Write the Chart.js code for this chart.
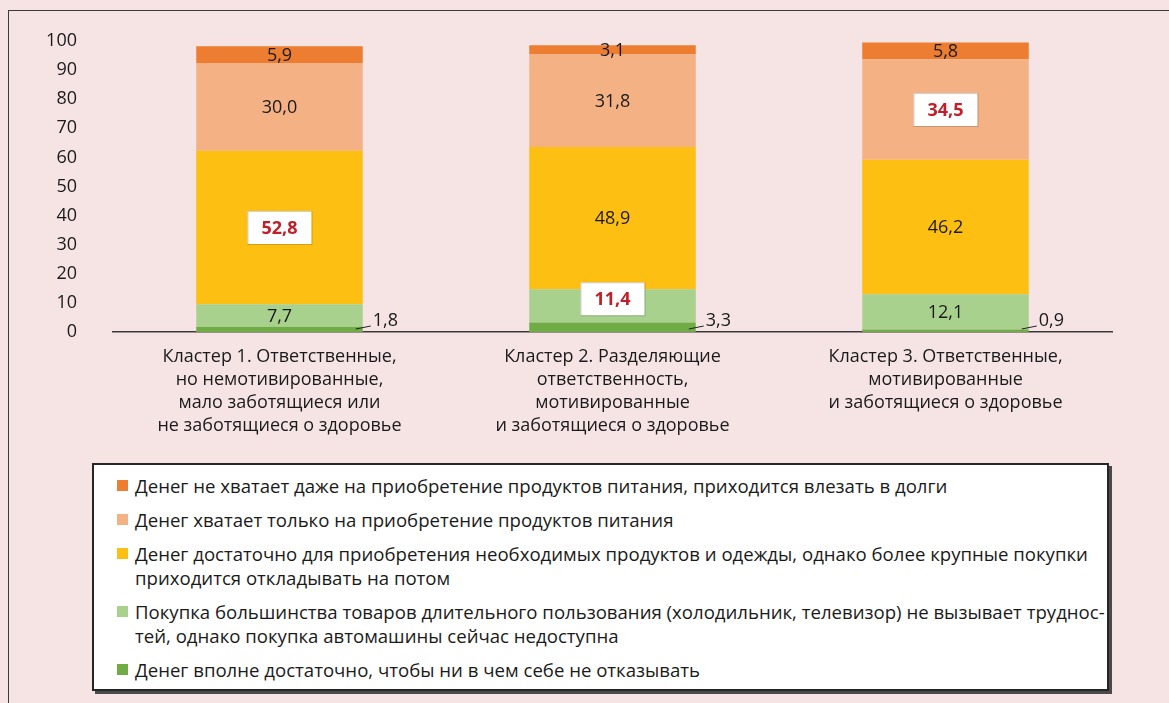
<!DOCTYPE html>
<html>
<head>
<meta charset="utf-8">
<script src="https://cdn.jsdelivr.net/npm/chart.js@4.4.1/dist/chart.umd.min.js"></script>
<style>
  html, body { margin: 0; padding: 0; }
  body { width: 1169px; height: 703px; background: #f6e4e4; position: relative; overflow: hidden;
         font-family: "Open Sans", sans-serif; color: #1a1a1a; }
  #frame { position: absolute; left: 8px; top: 10px; width: 1300px; height: 900px;
           border: 1.5px solid #3a3a3a; box-sizing: border-box; }
  #wrap { position: absolute; left: 0; top: 0; width: 1169px; height: 460px; }
  #legend { position: absolute; left: 92px; top: 463px; width: 1017px; height: 228px;
            box-sizing: border-box; border: 2px solid #262626; background: #fff;
            box-shadow: 3px 3px 0 #4a4a4a; padding: 9px 0 0 0; }
  .item { display: flex; align-items: flex-start; margin-bottom: 10px; font-size: 18.6px; line-height: 24px; }
  .sw { width: 11px; height: 11px; margin: 6px 7px 0 23px; flex: none; }
</style>
</head>
<body>
<div id="frame"></div>
<div id="wrap"><canvas id="chart"></canvas></div>
<div id="legend"></div>
<script>
// ─── Data ────────────────────────────────────────────────────────────────────

const categories = [
  ['Кластер 1. Ответственные,', 'но немотивированные,', 'мало заботящиеся или', 'не заботящиеся о здоровье'],
  ['Кластер 2. Разделяющие', 'ответственность,', 'мотивированные', 'и заботящиеся о здоровье'],
  ['Кластер 3. Ответственные,', 'мотивированные', 'и заботящиеся о здоровье'],
];

// legend order (top → bottom); the stack is drawn bottom → top, i.e. reversed
const seriesNames = [
  ['Денег не хватает даже на приобретение продуктов питания, приходится влезать в долги'],
  ['Денег хватает только на приобретение продуктов питания'],
  ['Денег достаточно для приобретения необходимых продуктов и одежды, однако более крупные покупки',
   'приходится откладывать на потом'],
  ['Покупка большинства товаров длительного пользования (холодильник, телевизор) не вызывает труднос-',
   'тей, однако покупка автомашины сейчас недоступна'],
  ['Денег вполне достаточно, чтобы ни в чем себе не отказывать'],
];
const seriesColors = ['#ED7D31', '#F4B183', '#FDBF12', '#A9D18E', '#6FAC46'];

const noMoney    = [5.9, 3.1, 5.8];
const foodOnly   = [30.0, 31.8, 34.5];
const clothes    = [52.8, 48.9, 46.2];
const durables   = [7.7, 11.4, 12.1];
const enough     = [1.8, 3.3, 0.9];
const seriesValues = [noMoney, foodOnly, clothes, durables, enough];

const yTicks = [0, 10, 20, 30, 40, 50, 60, 70, 80, 90, 100];

// [series index (legend order), category index] of the boxed red values
const highlighted = [[2, 0], [3, 1], [1, 2]];
// series whose labels sit outside the bar with a leader line
const outsideSeries = [4];

// ─── Legend ──────────────────────────────────────────────────────────────────

document.getElementById('legend').innerHTML = seriesNames.map((lines, i) => `
  <div class="item">
    <div class="sw" style="background:${seriesColors[i]}"></div>
    <div>${lines.join('<br>')}</div>
  </div>`).join('');

// ─── Chart ───────────────────────────────────────────────────────────────────

const fmt = v => v.toFixed(1).replace('.', ',');

const segLabels = {
  id: 'segLabels',
  afterDatasetsDraw(chart) {
    const ctx = chart.ctx;
    ctx.save();
    ctx.textAlign = 'center';
    ctx.textBaseline = 'middle';
    chart.data.datasets.forEach((ds, di) => {
      const si = ds.seriesIndex;
      chart.getDatasetMeta(di).data.forEach((bar, ci) => {
        const txt = fmt(ds.data[ci]);
        const right = bar.x + bar.width / 2;
        if (outsideSeries.includes(si)) {
          ctx.strokeStyle = '#222';
          ctx.lineWidth = 1;
          ctx.beginPath();
          ctx.moveTo(right - 7, bar.base - 3);
          ctx.lineTo(right + 8, bar.base - 6);
          ctx.stroke();
          ctx.font = '18px "Open Sans"';
          ctx.fillStyle = '#1a1a1a';
          ctx.textAlign = 'left';
          ctx.fillText(txt, right + 10, bar.base - 11);
          ctx.textAlign = 'center';
          return;
        }
        const cy = (bar.y + bar.base) / 2;
        if (highlighted.some(h => h[0] === si && h[1] === ci)) {
          ctx.font = 'bold 18px "Open Sans"';
          const w = ctx.measureText(txt).width + 28, h = 33;
          const by = si === 3 ? cy - 7 : cy;
          ctx.fillStyle = '#fff';
          ctx.fillRect(bar.x - w / 2, by - h / 2, w, h);
          ctx.strokeStyle = 'rgba(0,0,0,0.18)';
          ctx.lineWidth = 1;
          ctx.strokeRect(bar.x - w / 2 + 0.5, by - h / 2 + 0.5, w, h);
          ctx.fillStyle = '#C0202A';
          ctx.fillText(txt, bar.x, by + 1);
        } else {
          ctx.font = '18px "Open Sans"';
          ctx.fillStyle = '#1a1a1a';
          ctx.fillText(txt, bar.x, cy + 1);
        }
      });
    });
    ctx.restore();
  }
};

const datasets = seriesValues.map((vals, i) => ({
  label: seriesNames[i].join(' '),
  seriesIndex: i,
  data: vals,
  backgroundColor: seriesColors[i],
  borderWidth: 0,
  categoryPercentage: 1,
  barPercentage: 0.5,
})).reverse();

new Chart(document.getElementById('chart'), {
  type: 'bar',
  data: { labels: categories, datasets },
  plugins: [segLabels],
  options: {
    responsive: true,
    maintainAspectRatio: false,
    animation: false,
    layout: { padding: { top: 41, right: 57, bottom: 0, left: 0 } },
    plugins: { legend: { display: false }, tooltip: { enabled: false } },
    scales: {
      x: {
        stacked: true,
        grid: { display: false, drawTicks: false },
        border: { display: true, color: '#3a3a3a', width: 1.5 },
        ticks: { color: '#1a1a1a', font: { family: 'Open Sans', size: 18, lineHeight: 1.28 },
                 padding: 13, maxRotation: 0, autoSkip: false },
        afterFit: s => { s.height = 128; },
      },
      y: {
        stacked: true,
        min: 0, max: 100,
        afterBuildTicks: s => { s.ticks = yTicks.map(v => ({ value: v })); },
        grid: { display: false, drawTicks: false },
        border: { display: false },
        ticks: { color: '#1a1a1a', font: { family: 'Open Sans', size: 18 }, padding: 36 },
        afterFit: s => { s.width = 113; s.paddingTop = 0; s.paddingBottom = 0; },
      },
    },
  },
});
</script>
</body>
</html>
